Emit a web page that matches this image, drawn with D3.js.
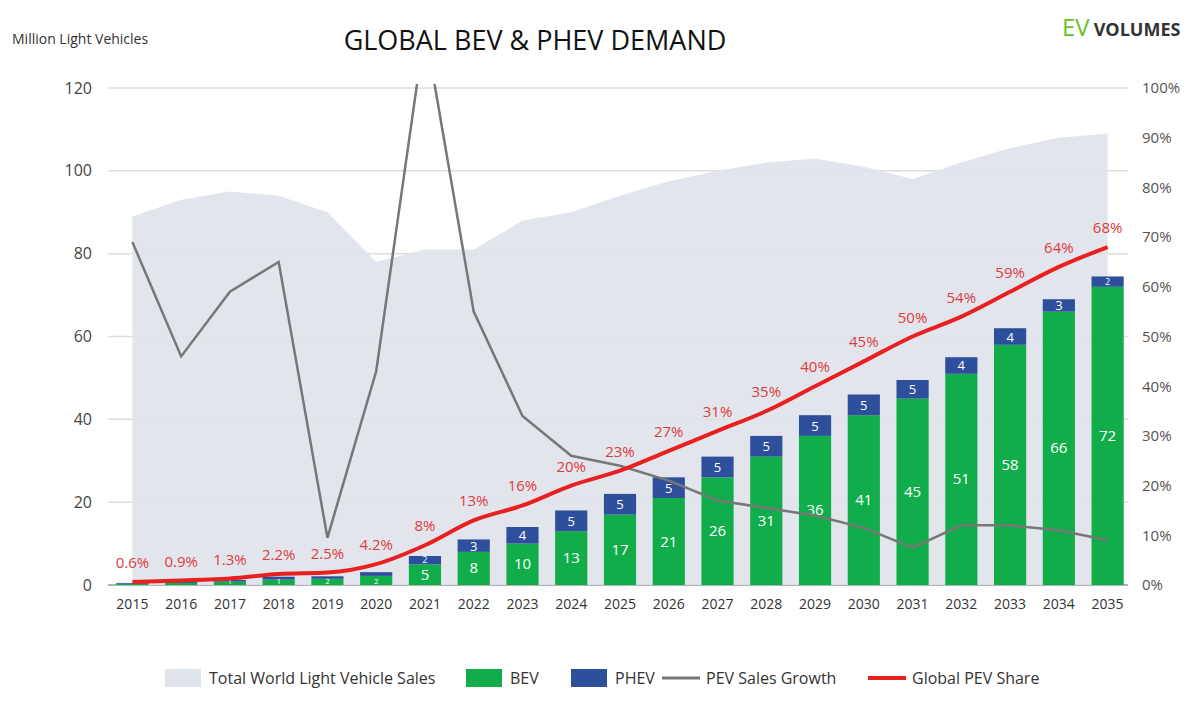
<!DOCTYPE html>
<html><head><meta charset="utf-8">
<script src="https://cdn.jsdelivr.net/npm/d3@7"></script>
<style>body{margin:0;background:#fff;font-family:"Open Sans",sans-serif}</style>
</head><body><svg id="c" width="1200" height="717"></svg>
<script>
const years = d3.range(2015, 2036);
const totalSales = [89,93,95,94,90,78,81,81,88,90,94,97.5,100,102,103,101,98,102,105.5,108,109];
const bev = [0.3,0.5,0.8,1.3,1.5,2.2,5,8,10,13,17,21,26,31,36,41,45,51,58,66,72];
const phev = [0.2,0.3,0.4,0.7,0.6,0.9,2,3,4,5,5,5,5,5,5,5,4.5,4,4,3,2.5];
const bevLabels = ['','','1','1','2','2','5','8','10','13','17','21','26','31','36','41','45','51','58','66','72'];
const phevLabels = ['','','','','','','2','3','4','5','5','5','5','5','5','5','5','4','4','3','2'];
const growth = [69,46,59,65,9.5,43,112,55,34,26,24,21,17,15.5,14,11.5,7.5,12,12,11,9];
const share = [0.6,0.9,1.3,2.2,2.5,4.2,8,13,16,20,23,27,31,35,40,45,50,54,59,64,68];
const shareLabels = ['0.6%','0.9%','1.3%','2.2%','2.5%','4.2%','8%','13%','16%','20%','23%','27%','31%','35%','40%','45%','50%','54%','59%','64%','68%'];
const leftTicks = [0,20,40,60,80,100,120];
const rightTicks = d3.range(0,101,10);

const svg = d3.select('#c');
const x = d3.scaleBand().domain(years).range([108,1132]).paddingInner(0.34).paddingOuter(0.17);
const cx = d => x(d) + x.bandwidth()/2;
const y = d3.scaleLinear().domain([0,120]).range([585,88]);
const yr = d3.scaleLinear().domain([0,100]).range([585,88]);

svg.append('defs').append('clipPath').attr('id','clip').append('rect')
  .attr('x',100).attr('y',84).attr('width',1040).attr('height',510);

svg.append('g').selectAll('line').data(leftTicks).join('line')
  .attr('x1',108).attr('x2',1128).attr('y1',d=>y(d)).attr('y2',d=>y(d))
  .attr('stroke',d=>d===0?'#999':'#ddd').attr('stroke-width',1.5);

svg.append('path').datum(years)
  .attr('d', d3.area().x(d=>cx(d)).y0(y(0)).y1((d,i)=>y(totalSales[i])))
  .attr('fill','#dfe3ea').attr('opacity',0.9);

svg.append('g').attr('transform','translate(100,0)')
  .call(d3.axisLeft(y).tickValues(leftTicks).tickSize(0).tickPadding(8))
  .call(g=>g.select('.domain').remove())
  .selectAll('text').attr('font-size',16).attr('fill','#444').attr('font-family','Open Sans');
svg.append('g').attr('transform','translate(1136,0)')
  .call(d3.axisRight(yr).tickValues(rightTicks).tickFormat(d=>d+'%').tickSize(0).tickPadding(6))
  .call(g=>g.select('.domain').remove())
  .selectAll('text').attr('font-size',15).attr('fill','#555').attr('font-family','Open Sans');
svg.append('g').attr('transform','translate(0,591)')
  .call(d3.axisBottom(x).tickSize(0).tickPadding(8))
  .call(g=>g.select('.domain').remove())
  .selectAll('text').attr('font-size',14).attr('fill','#333').attr('font-family','Open Sans');

const bars = svg.append('g');
bars.selectAll('.bev').data(years).join('rect')
  .attr('x',d=>x(d)).attr('width',x.bandwidth())
  .attr('y',(d,i)=>y(bev[i])).attr('height',(d,i)=>y(0)-y(bev[i])).attr('fill','#12ad4b');
bars.selectAll('.phev').data(years).join('rect')
  .attr('x',d=>x(d)).attr('width',x.bandwidth())
  .attr('y',(d,i)=>y(bev[i]+phev[i])).attr('height',(d,i)=>y(0)-y(phev[i])).attr('fill','#2e4f9c');
bars.selectAll('.bl').data(years).join('text')
  .attr('x',d=>cx(d)).attr('y',(d,i)=>bev[i]<4 ? y(0)-1 : y(bev[i]/2)+5)
  .attr('text-anchor','middle').attr('fill','#fff')
  .attr('font-size',(d,i)=>bev[i]<4?8:15)
  .text((d,i)=>bevLabels[i]);
bars.selectAll('.pl').data(years).join('text')
  .attr('x',d=>cx(d)).attr('y',(d,i)=>y(bev[i]+phev[i]/2)+(phev[i]<3?3:5))
  .attr('text-anchor','middle').attr('fill','#fff')
  .attr('font-size',(d,i)=>phev[i]<3?9:13)
  .text((d,i)=>phevLabels[i]);

svg.append('path').datum(years).attr('clip-path','url(#clip)')
  .attr('d', d3.line().x(d=>cx(d)).y((d,i)=>yr(growth[i])))
  .attr('fill','none').attr('stroke','#777').attr('stroke-width',2.5);

svg.append('path').datum(years)
  .attr('d', d3.line().curve(d3.curveMonotoneX).x(d=>cx(d)).y((d,i)=>yr(share[i])))
  .attr('fill','none').attr('stroke','#e8201f').attr('stroke-width',4);
svg.append('g').selectAll('text').data(years).join('text')
  .attr('x',d=>cx(d)).attr('y',(d,i)=>yr(share[i])-14)
  .attr('text-anchor','middle').attr('fill','#e03a3e').attr('font-size',15)
  .text((d,i)=>shareLabels[i]);

svg.append('text').attr('x',12).attr('y',44).attr('font-size',14).attr('fill','#333').text('Million Light Vehicles');
svg.append('text').attr('x',535).attr('y',50).attr('text-anchor','middle').attr('font-size',27).attr('fill','#111').text('GLOBAL BEV & PHEV DEMAND');
const logo = svg.append('text').attr('x',1062).attr('y',36).attr('font-weight','bold');
logo.append('tspan').attr('fill','#6cbf2c').attr('font-size',24).attr('font-weight','normal').text('EV');
logo.append('tspan').attr('fill','#333').attr('font-size',18).attr('dx',4).text('VOLUMES');

const legend = [
  {t:'Total World Light Vehicle Sales', k:'rect', c:'#dfe3ea', x:165},
  {t:'BEV', k:'rect', c:'#12ad4b', x:466},
  {t:'PHEV', k:'rect', c:'#2e4f9c', x:571},
  {t:'PEV Sales Growth', k:'line', c:'#777', x:662},
  {t:'Global PEV Share', k:'line', c:'#e8201f', x:868}
];
const lg = svg.append('g').selectAll('g').data(legend).join('g').attr('transform',d=>`translate(${d.x},678)`);
lg.filter(d=>d.k==='rect').append('rect').attr('x',0).attr('y',-9).attr('width',36).attr('height',18).attr('fill',d=>d.c);
lg.filter(d=>d.k==='line').append('line').attr('x1',0).attr('x2',38).attr('stroke',d=>d.c).attr('stroke-width',d=>d.c==='#777'?3:4);
lg.append('text').attr('x',44).attr('y',6).attr('font-size',16).attr('fill','#333').text(d=>d.t);
</script></body></html>
